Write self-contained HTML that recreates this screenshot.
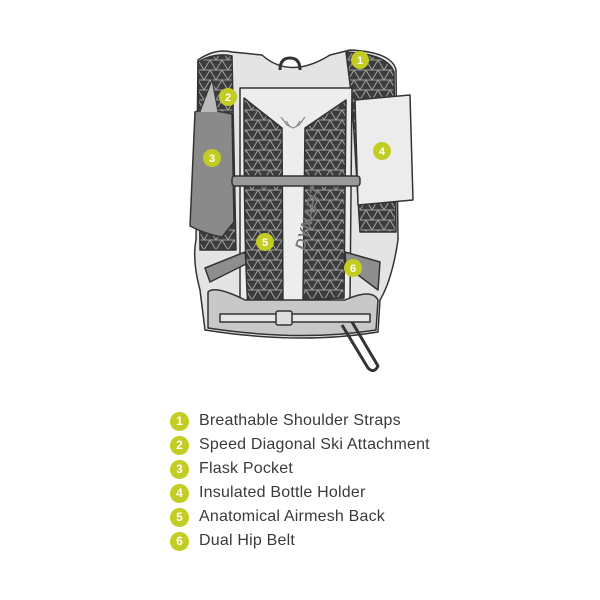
<!DOCTYPE html>
<html><head><meta charset="utf-8"><style>
body{margin:0;width:600px;height:600px;background:#fff;overflow:hidden}
svg{position:absolute;left:0;top:0}
.lg{position:absolute;left:170px;font-family:"Liberation Sans",sans-serif;font-size:16px;color:#3a3a3a}
.lg div{height:24px;white-space:nowrap;letter-spacing:0.2px;display:flex;align-items:center}
.lg span{display:inline-block;width:19px;height:19px;border-radius:50%;background:#c2cc22;color:#fff;font-weight:bold;font-size:12px;text-align:center;line-height:19px;margin-right:10px}
</style></head><body>
<svg width="600" height="600" viewBox="0 0 600 600">
<defs>
<pattern id="m" width="12" height="10" patternUnits="userSpaceOnUse">
<rect width="12" height="10" fill="#3c3c3c"/>
<path d="M0 10L6 0L12 10M0 0H12M0 10H12" stroke="#a0a0a0" stroke-width="1" fill="none"/>
</pattern>
</defs>
<g stroke="#333" stroke-width="1.5" stroke-linejoin="round">
<path d="M198 60 Q215 48 232 52 L262 55 Q290 80 330 55 L350 50 Q392 52 396 70 L398 240 Q392 280 380 300 L378 332 Q300 345 205 330 L200 290 Q192 260 196 240 Z" fill="#e4e4e4"/>
<path d="M280 70 Q280 58 290 58 Q300 58 300 70" fill="none" stroke-width="3"/>
<path d="M198 62 Q215 52 232 56 L236 250 L200 250 Z" fill="url(#m)"/>
<path d="M346 52 Q388 54 394 72 L396 232 L360 232 L352 100 Z" fill="url(#m)"/>
<path d="M240 88 L352 88 L350 300 L240 310 Z" fill="#ededed"/>
<path d="M244 98 L282 128 L283 310 L248 308 Q244 250 244 98 Z" fill="url(#m)"/>
<path d="M346 100 L305 128 L303 300 L344 298 Z" fill="url(#m)"/>
<path d="M281 117 L287 125 L293 128 L299 125 L305 117 M286 121 L290 127 M300 121 L296 127" stroke="#888" fill="none" stroke-width="1.2"/>
<path d="M195 112 Q205 108 232 114 L234 222 L222 237 Q205 234 190 226 Z" fill="#8a8a8a"/>
<path d="M200 112 L212 80 L218 112" fill="#bbb" stroke-width="1"/>
<path d="M355 100 L410 95 L413 200 L358 205 Z" fill="#ececec"/>
<rect x="232" y="176" width="128" height="10" rx="3" fill="#9a9a9a"/>
<path d="M205 268 L245 252 L246 264 L210 282 Z" fill="#8e8e8e"/>
<path d="M345 252 L380 262 L378 290 L346 266 Z" fill="#8e8e8e"/>
<path d="M208 292 Q215 285 245 300 L345 300 Q372 288 378 300 L376 330 Q300 342 208 328 Z" fill="#c8c8c8"/>
<rect x="220" y="314" width="150" height="8" fill="#e6e6e6"/>
<rect x="276" y="311" width="16" height="14" rx="2" fill="#ddd"/>
<path d="M342 325 L368 368 Q374 374 378 366 L352 322" fill="none" stroke-width="3"/>
</g>
<text x="285" y="255" transform="rotate(-75 292 240)" font-family="Liberation Sans" font-weight="bold" font-style="italic" font-size="15" fill="#777">DYNAFIT</text>
<g fill="#c2cc22" font-family="Liberation Sans" font-weight="bold" font-size="11" text-anchor="middle">
<circle cx="360" cy="60" r="9"/><circle cx="228" cy="97" r="9"/><circle cx="212" cy="158" r="9"/>
<circle cx="382" cy="151" r="9"/><circle cx="265" cy="242" r="9"/><circle cx="353" cy="268" r="9"/>
<g fill="#fff"><text x="360" y="64">1</text><text x="228" y="101">2</text><text x="212" y="162">3</text>
<text x="382" y="155">4</text><text x="265" y="246">5</text><text x="353" y="272">6</text></g>
</g>
</svg>
<div class="lg" style="top:409px">
<div><span>1</span>Breathable Shoulder Straps</div>
<div><span>2</span>Speed Diagonal Ski Attachment</div>
<div><span>3</span>Flask Pocket</div>
<div><span>4</span>Insulated Bottle Holder</div>
<div><span>5</span>Anatomical Airmesh Back</div>
<div><span>6</span>Dual Hip Belt</div>
</div>
</body></html>
